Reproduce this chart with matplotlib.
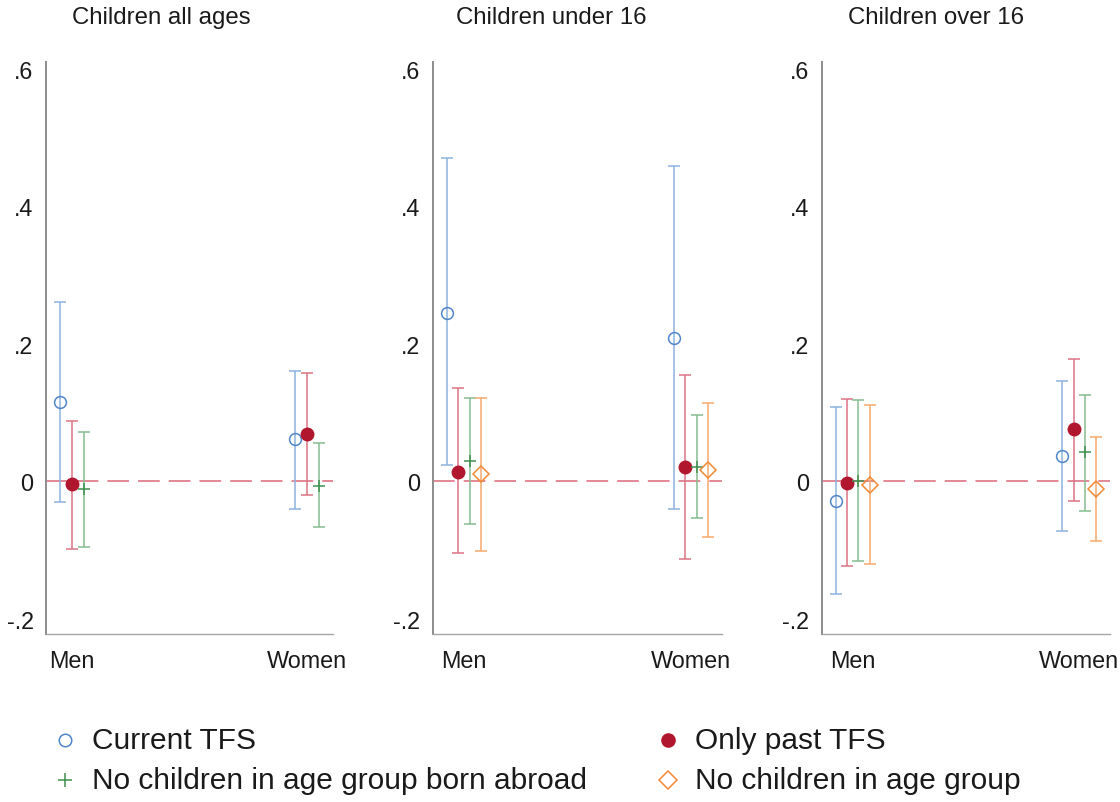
"""
coefficient plot: TFS effects by child age group, men vs women
"""

import matplotlib.pyplot as plt
from matplotlib.lines import Line2D
import numpy as np

plt.rcParams['font.family'] = ['Liberation Sans', 'DejaVu Sans']

groups = ["Men", "Women"]
panel_titles = ["Children all ages", "Children under 16", "Children over 16"]
series_labels = ["Current TFS", "Only past TFS",
                 "No children in age group born abroad", "No children in age group"]

# point estimates and 95% CI, [Men, Women]
# children all ages
cur_all = [0.115, 0.061]
cur_all_lo = [-0.031, -0.041]
cur_all_hi = [0.261, 0.161]
past_all = [-0.004, 0.068]
past_all_lo = [-0.099, -0.020]
past_all_hi = [0.088, 0.157]
abroad_all = [-0.012, -0.007]
abroad_all_lo = [-0.096, -0.067]
abroad_all_hi = [0.072, 0.055]

# children under 16
cur_u16 = [0.245, 0.208]
cur_u16_lo = [0.023, -0.041]
cur_u16_hi = [0.470, 0.459]
past_u16 = [0.013, 0.020]
past_u16_lo = [-0.105, -0.113]
past_u16_hi = [0.135, 0.154]
abroad_u16 = [0.029, 0.020]
abroad_u16_lo = [-0.063, -0.054]
abroad_u16_hi = [0.121, 0.096]
none_u16 = [0.010, 0.016]
none_u16_lo = [-0.101, -0.082]
none_u16_hi = [0.121, 0.113]

# children over 16
cur_o16 = [-0.029, 0.037]
cur_o16_lo = [-0.164, -0.072]
cur_o16_hi = [0.108, 0.146]
past_o16 = [-0.003, 0.076]
past_o16_lo = [-0.124, -0.029]
past_o16_hi = [0.119, 0.178]
abroad_o16 = [0.000, 0.042]
abroad_o16_lo = [-0.116, -0.043]
abroad_o16_hi = [0.118, 0.126]
none_o16 = [-0.005, -0.012]
none_o16_lo = [-0.121, -0.087]
none_o16_hi = [0.111, 0.064]

yticks = [-0.2, 0, 0.2, 0.4, 0.6]
ytick_labels = ["-.2", "0", ".2", ".4", ".6"]

# style per series: marker, face, edge colour, bar colour, size
styles = [
    dict(marker="o", mfc="none", mec="#4f86c9", ecol="#8db1df", ms=8.5, mew=1.1),
    dict(marker="o", mfc="#b0172e", mec="#b0172e", ecol="#dc7385", ms=9, mew=1.0),
    dict(marker="+", mfc="none", mec="#3f9150", ecol="#86bd8f", ms=9, mew=1.1),
    dict(marker="D", mfc="none", mec="#f08a36", ecol="#f5aa6c", ms=8.5, mew=1.1),
]

panels = [
    [(cur_all, cur_all_lo, cur_all_hi), (past_all, past_all_lo, past_all_hi),
     (abroad_all, abroad_all_lo, abroad_all_hi)],
    [(cur_u16, cur_u16_lo, cur_u16_hi), (past_u16, past_u16_lo, past_u16_hi),
     (abroad_u16, abroad_u16_lo, abroad_u16_hi), (none_u16, none_u16_lo, none_u16_hi)],
    [(cur_o16, cur_o16_lo, cur_o16_hi), (past_o16, past_o16_lo, past_o16_hi),
     (abroad_o16, abroad_o16_lo, abroad_o16_hi), (none_o16, none_o16_lo, none_o16_hi)],
]

W, H = 1120, 803
fig = plt.figure(figsize=(W / 100, H / 100), dpi=100)

# axes boxes in pixels: left, width
ax_left = [46, 433, 822]
ax_width = [287, 289, 288]
ax_top, ax_bottom = 63, 635
title_x = [161, 551, 936]

step = 0.05
for p, series in enumerate(panels):
    ax = fig.add_axes([ax_left[p] / W, 1 - ax_bottom / H,
                       ax_width[p] / W, (ax_bottom - ax_top) / H])
    n = len(series)
    offsets = (np.arange(n) - (n - 1) / 2) * step
    xpos = np.array([1, 2])

    ax.axhline(0, color="#e07f8b", lw=1.3, ls=(0, (12, 5)), zorder=1)

    for k, (est, lo, hi) in enumerate(series):
        st = styles[k]
        est = np.array(est)
        yerr = np.vstack([est - np.array(lo), np.array(hi) - est])
        ax.errorbar(xpos + offsets[k], est, yerr=yerr, fmt="none",
                    ecolor=st["ecol"], elinewidth=1.1, capsize=4.5, capthick=1.1, zorder=2)
        ax.plot(xpos + offsets[k], est, ls="none", marker=st["marker"],
                mfc=st["mfc"], mec=st["mec"], ms=st["ms"], mew=st["mew"], zorder=3)

    pad = abs(offsets[0]) + 0.061
    ax.set_xlim(1 - pad, 2 + pad)
    ax.set_ylim(-0.2225, 0.61)
    ax.set_xticks(xpos)
    ax.set_xticklabels(groups)
    ax.set_yticks(yticks)
    ax.set_yticklabels(ytick_labels)
    ax.tick_params(length=0, labelsize=16.8, colors="#1a1a1a")
    ax.tick_params(axis="y", pad=9)
    ax.tick_params(axis="x", pad=11)
    for side in ["top", "right"]:
        ax.spines[side].set_visible(False)
    ax.spines["left"].set_color("#8c8c8c")
    ax.spines["left"].set_linewidth(1.4)
    ax.spines["bottom"].set_color("#a6a6a6")
    ax.spines["bottom"].set_linewidth(1.0)

    fig.text(title_x[p] / W, 1 - 18 / H, panel_titles[p], ha="center", va="center",
             fontsize=17.3, color="#1a1a1a")

# legend, two columns
leg_pos = [(65, 741), (668, 741), (65, 781), (668, 781)]
leg_order = [0, 1, 2, 3]
for (px, py), k in zip(leg_pos, leg_order):
    st = styles[k]
    fig.add_artist(Line2D([px / W], [1 - py / H], transform=fig.transFigure, ls="none",
                          marker=st["marker"], mfc=st["mfc"], mec=st["mec"],
                          ms=st["ms"] + 0.5, mew=st["mew"]))
    fig.text((px + 27) / W, 1 - py / H, series_labels[k], ha="left", va="center",
             fontsize=21.5, color="#1a1a1a")

fig.savefig("out.png", dpi=100)
